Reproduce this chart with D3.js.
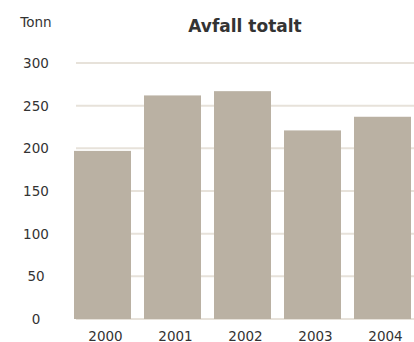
<!DOCTYPE html>
<html>
<head>
<meta charset="utf-8">
<script src="https://cdn.jsdelivr.net/npm/d3@7"></script>
<style>
  html, body { margin: 0; padding: 0; background: #ffffff; }
  svg { display: block; }
</style>
</head>
<body>
<svg id="chart" width="414" height="342"></svg>
<script>
// Total waste per year (tonnes)
const years = ["2000", "2001", "2002", "2003", "2004"];
const totals = [197, 262, 267, 221, 237];
const yTicks = [0, 50, 100, 150, 200, 250, 300];
const unitLabel = "Tonn";
const title = "Avfall totalt";

const svg = d3.select("#chart");
const font = "'DejaVu Sans', Verdana, sans-serif";

const y = d3.scaleLinear().domain([0, 300]).range([319, 63]);
const x = d3.scaleBand().domain(years).range([67.5, 417.5])
  .paddingInner(13 / 70).paddingOuter(13 / 140);

// Horizontal gridlines
svg.append("g").selectAll("line").data(yTicks).join("line")
  .attr("x1", 76).attr("x2", 414)
  .attr("y1", d => y(d)).attr("y2", d => y(d))
  .attr("stroke", "#e7e2da").attr("stroke-width", 2);

// Y tick labels
svg.append("g").selectAll("text").data(yTicks).join("text")
  .attr("x", 36).attr("y", d => y(d))
  .attr("text-anchor", "middle").attr("dominant-baseline", "central")
  .attr("font-family", font).attr("font-size", 13.5).attr("fill", "#333")
  .text(d => d);

// Bars
svg.append("g").selectAll("rect").data(years).join("rect")
  .attr("x", d => x(d)).attr("width", x.bandwidth())
  .attr("y", (d, i) => y(totals[i]))
  .attr("height", (d, i) => y(0) - y(totals[i]))
  .attr("fill", "#bab1a3");

// Year labels
svg.append("g").selectAll("text").data(years).join("text")
  .attr("x", d => x(d) + x.bandwidth() / 2 + 3).attr("y", 341)
  .attr("text-anchor", "middle")
  .attr("font-family", font).attr("font-size", 13.5).attr("fill", "#333")
  .text(d => d);

// Unit label and title
svg.append("text").attr("x", 36).attr("y", 26.5).attr("text-anchor", "middle")
  .attr("font-family", font).attr("font-size", 13.5).attr("fill", "#333")
  .text(unitLabel);
svg.append("text").attr("x", 245).attr("y", 32).attr("text-anchor", "middle")
  .attr("font-family", font).attr("font-size", 17).attr("font-weight", "bold")
  .attr("fill", "#333").text(title);
</script>
</body>
</html>
